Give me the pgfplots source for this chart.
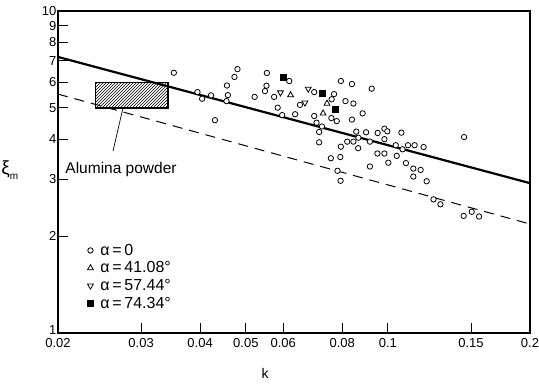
\documentclass[border=0pt]{standalone}
\usepackage{fontspec}
\setmainfont{Liberation Sans}
\usepackage{pgfplots}
\usepackage{pgfplotstable}
\pgfplotsset{compat=1.18}
\usetikzlibrary{patterns}

\pgfplotstableread{
x y
0.0352 6.43
0.0395 5.60
0.0404 5.34
0.0422 5.47
0.0430 4.58
0.0456 5.87
0.0458 5.48
0.0455 5.25
0.0473 6.24
0.0480 6.60
0.0522 5.41
0.0554 6.42
0.0553 5.86
0.0549 5.64
0.0618 6.06
0.0574 5.41
0.0584 5.01
0.0597 4.75
0.0636 4.78
0.0651 5.11
0.0698 5.60
0.0769 5.52
0.0760 5.32
0.0795 6.06
0.0839 5.93
0.0924 5.74
0.0813 5.25
0.0845 5.16
0.0884 4.81
0.0839 4.60
0.0759 4.65
0.0779 4.55
0.0698 4.72
0.0706 4.50
0.0725 4.38
0.0715 4.21
0.0715 3.91
0.0795 3.79
0.0757 3.49
0.0793 3.52
0.0782 3.19
0.0794 2.97
0.0857 4.22
0.0899 4.20
0.0866 4.04
0.0845 3.93
0.0820 3.93
0.0865 3.75
0.0916 3.93
0.0951 4.18
0.0983 4.31
0.0997 4.23
0.0983 4.00
0.1068 4.19
0.1039 3.83
0.1074 3.72
0.1103 3.83
0.1139 3.83
0.1190 3.78
0.0950 3.61
0.0983 3.61
0.1002 3.38
0.1044 3.55
0.0916 3.29
0.1092 3.37
0.1132 3.24
0.1173 3.21
0.1132 3.06
0.1208 2.96
0.1450 4.06
0.1249 2.60
0.1292 2.51
0.1447 2.31
0.1505 2.38
0.1560 2.30
}\circdata

\pgfplotstableread{
x y
0.0622 5.48
0.0743 5.16
0.0729 4.81
}\triupdata

\pgfplotstableread{
x y
0.0592 5.58
0.0667 5.19
0.0678 5.73
}\tridowndata

\pgfplotstableread{
x y
0.0599 6.21
0.0724 5.54
0.0774 4.95
}\squaredata

\begin{document}
\begin{tikzpicture}
\begin{axis}[
  at={(0pt,0pt)}, anchor=south west,
  scale only axis, width=472pt, height=322pt,
  xmode=log, ymode=log,
  xmin=0.02, xmax=0.2, ymin=1, ymax=10,
  xtick={0.02,0.03,0.04,0.05,0.06,0.08,0.1,0.15,0.2},
  xticklabels={0.02,0.03,0.04,0.05,0.06,0.08,0.1,0.15,0.2},
  ytick={1,2,3,4,5,6,7,8,9,10},
  yticklabels={\raisebox{6pt}{1},2,3,4,5,6,7,8,9,10},
  minor xtick={}, minor ytick={},
  tick align=inside, major tick length=10pt,
  xtick pos=bottom, ytick pos=left,
  axis line style={line width=1.1pt},
  tick style={line width=0.9pt, black},
  tick label style={font=\fontsize{13}{15}\selectfont},
  yticklabel style={xshift=2pt},
  xticklabel style={yshift=-2pt},
  xlabel={k},
  xlabel style={at={(axis description cs:0.4386,-0.124)}, anchor=center, font=\fontsize{14}{16}\selectfont},
  legend style={at={(0.062,0.283)}, anchor=north west, draw=none, fill=none,
    font=\fontsize{16}{18}\selectfont, row sep=1pt, inner sep=0pt},
  legend cell align=left,
  clip=false,
]
\addplot[line width=2.2pt, black, forget plot] coordinates {(0.02,7.2) (0.2,2.92)};
\addplot[line width=1pt, black, dash pattern=on 10pt off 7pt, forget plot] coordinates {(0.02,5.52) (0.2,2.18)};
\addplot[line width=1.3pt, black, pattern=north east lines, forget plot] coordinates {(0.024,5) (0.0342,5) (0.0342,6) (0.024,6)} -- cycle;
\draw[line width=0.7pt] (axis cs:0.02616,3.675) -- (axis cs:0.02746,5.0);
\node[font=\fontsize{15.5}{18}\selectfont] at (axis cs:0.0272,3.21) {Alumina powder};
\node[font=\fontsize{19}{21}\selectfont] at (axis description cs:-0.102,0.506) {ξ\raisebox{-0.5ex}{\fontsize{10}{11}\selectfont m}};

\addplot[only marks, mark=*, mark size=2.7pt, mark options={fill=white, draw=black, line width=0.8pt}] table {\circdata};
\addlegendentry{\hspace{5pt}α\,=\,0}
\addplot[only marks, mark=triangle*, mark size=3.4pt, mark options={fill=white, draw=black, line width=0.8pt}] table {\triupdata};
\addlegendentry{\hspace{5pt}α\,=\,41.08°}
\addplot[only marks, mark=triangle*, mark size=3.4pt, mark options={fill=white, draw=black, line width=0.8pt, rotate=180}] table {\tridowndata};
\addlegendentry{\hspace{5pt}α\,=\,57.44°}
\addplot[only marks, mark=square*, mark size=3pt, mark options={fill=black, draw=black}] table {\squaredata};
\addlegendentry{\hspace{5pt}α\,=\,74.34°}
\end{axis}
\pgfresetboundingbox
\path (-58pt,-51pt) rectangle (481pt,333pt);
\end{tikzpicture}
\end{document}
